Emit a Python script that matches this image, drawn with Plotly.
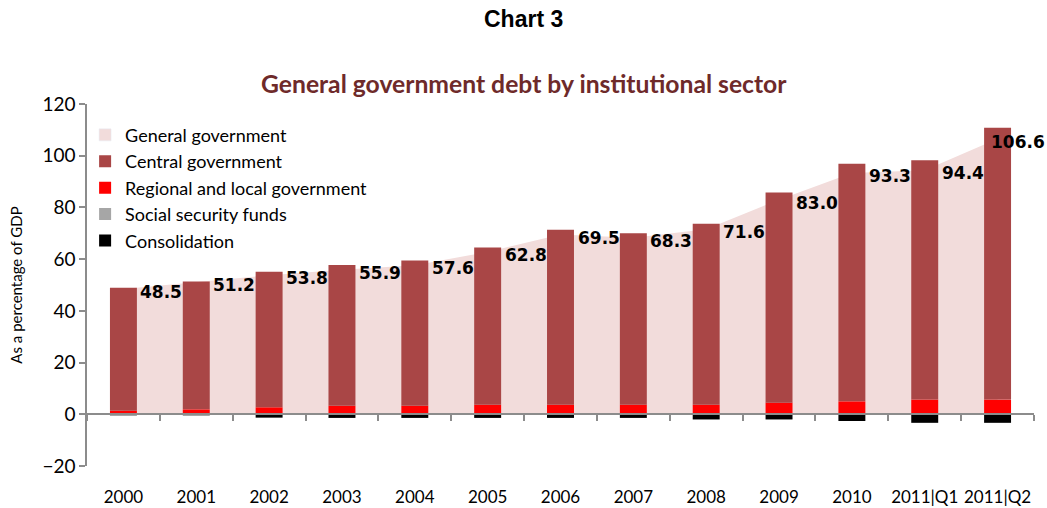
import plotly.graph_objects as go

categories = ["2000", "2001", "2002", "2003", "2004", "2005", "2006", "2007",
              "2008", "2009", "2010", "2011|Q1", "2011|Q2"]
general_gov = [48.5, 51.2, 53.8, 55.9, 57.6, 62.8, 69.5, 68.3, 71.6, 83.0, 93.3, 94.4, 106.6]
central_gov = [47.5, 49.5, 52.4, 54.4, 56.2, 60.8, 67.7, 66.3, 70.0, 81.3, 91.9, 92.5, 105.1]
regional_local = [1.4, 1.9, 2.7, 3.3, 3.3, 3.7, 3.7, 3.7, 3.7, 4.5, 5.0, 5.7, 5.7]
social_security = [-0.5, -0.5, 0, 0, 0, 0, 0, 0, 0, 0, 0, 0, 0]
consolidation = [0, 0, -1.3, -1.4, -1.4, -1.4, -1.4, -1.4, -2.0, -2.0, -2.6, -3.3, -3.3]
label_texts = [f"{v:.1f}" for v in general_gov]

PINK = "#F2DCDB"
fig = go.Figure()

# base subplot (x, y): general government area, drawn beneath the bars
fig.add_trace(go.Scatter(
    x=categories, y=general_gov, name="General government",
    mode="lines", line=dict(width=0, color=PINK),
    fill="tozeroy", fillcolor=PINK, showlegend=False, hoverinfo="skip"))

# legend swatch for the area (square symbol like the original)
fig.add_trace(go.Bar(x=categories, y=[None] * len(categories), name="General government",
                     marker=dict(color=PINK), legendrank=1, xaxis="x2", yaxis="y2"))

# overlay subplot (x2, y2): stacked bars
fig.add_trace(go.Bar(x=categories, y=regional_local, name="Regional and local government",
                     marker=dict(color="#FF0000", line=dict(width=0)), legendrank=3,
                     xaxis="x2", yaxis="y2"))
fig.add_trace(go.Bar(x=categories, y=central_gov, name="Central government",
                     marker=dict(color="#A94646", line=dict(width=0)), legendrank=2,
                     xaxis="x2", yaxis="y2"))
fig.add_trace(go.Bar(x=categories, y=social_security, name="Social security funds",
                     marker=dict(color="#A6A6A6", line=dict(width=0)), legendrank=4,
                     xaxis="x2", yaxis="y2"))
fig.add_trace(go.Bar(x=categories, y=consolidation, name="Consolidation",
                     marker=dict(color="#000000", line=dict(width=0)), legendrank=5,
                     xaxis="x2", yaxis="y2"))

n = len(categories)
for i, (v, t) in enumerate(zip(general_gov, label_texts)):
    fig.add_annotation(x=i, y=v, xref="x", yref="y", text=t, showarrow=False, xanchor="left",
                       xshift=(15 if i < n - 1 else -9), yshift=-3,
                       font=dict(family="DejaVu Sans", size=17, color="black", weight="bold"))

title_x = (1047 / 2 - 87) / 947
fig.add_annotation(x=title_x, y=1, xref="paper", yref="paper", yanchor="bottom", yshift=70,
                   text="<b>Chart 3</b>", showarrow=False,
                   font=dict(family="Liberation Sans", size=23, color="black"))
fig.add_annotation(x=title_x, y=1, xref="paper", yref="paper", yanchor="bottom", yshift=4,
                   text="<b>General government debt by institutional sector</b>", showarrow=False,
                   font=dict(family="Lato", size=24.7, color="#6E2A2A"))

fig.update_layout(
    width=1047, height=508,
    margin=dict(l=87, r=13, t=104, b=42, autoexpand=False),
    paper_bgcolor="white", plot_bgcolor="white",
    barmode="relative", bargap=0.63,
    showlegend=True,
    legend=dict(x=-0.002, y=0.965, xanchor="left", yanchor="top",
                font=dict(family="Lato", size=18, color="black"),
                bgcolor="rgba(0,0,0,0)", itemwidth=30, traceorder="normal"),
    xaxis=dict(type="category", categoryarray=categories, range=[-0.5, n - 0.5],
               anchor="y", side="bottom", automargin=False,
               showline=False, showgrid=False, zeroline=False,
               ticks="outside", ticklen=16, tickcolor="rgba(0,0,0,0)",
               tickfont=dict(family="Lato", size=17, color="black")),
    xaxis2=dict(type="category", categoryarray=categories, range=[-0.5, n - 0.5],
                overlaying="x", anchor="free", position=20 / 140, automargin=False,
                showline=True, linecolor="#8C8C8C", linewidth=1.5,
                ticks="outside", ticklen=6, tickcolor="#8C8C8C", tickwidth=1.5,
                tickson="boundaries", showticklabels=False, showgrid=False, zeroline=False),
    yaxis=dict(range=[-20, 120], dtick=20, showgrid=False, zeroline=False, automargin=False,
               showline=True, linecolor="#8C8C8C", linewidth=1.5,
               ticks="outside", ticklen=6, tickcolor="#8C8C8C", tickwidth=1.5,
               tickfont=dict(family="Lato", size=19, color="black"),
               title=dict(text="As a percentage of GDP", standoff=16,
                          font=dict(family="Lato", size=15, color="black"))),
    yaxis2=dict(range=[-20, 120], overlaying="y", anchor="x", visible=False,
                showgrid=False, zeroline=False, automargin=False),
)

fig.write_html("out.html")
